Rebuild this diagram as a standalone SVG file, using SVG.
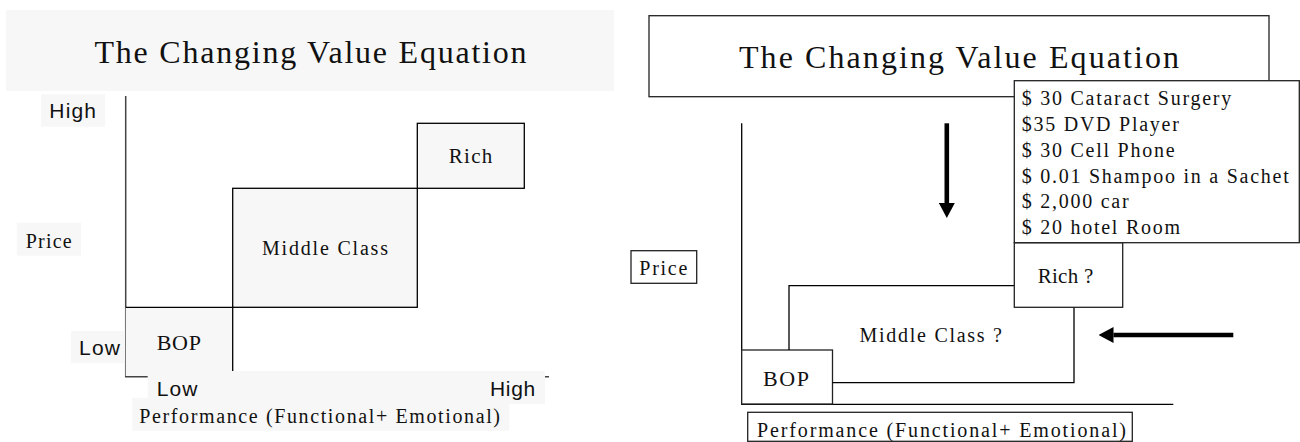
<svg xmlns="http://www.w3.org/2000/svg" width="1300" height="442" viewBox="0 0 1300 442">
<style>
.bg{fill:#f7f7f7;stroke:none}
.box{fill:#f7f7f7;stroke:#000;stroke-width:1.3}
.wbox{fill:#fff;stroke:#222;stroke-width:1.3}
.ln{fill:none;stroke:#000;stroke-width:1.3}
.ax{fill:none;stroke:#444;stroke-width:1.5}
.serif{font-family:"Liberation Serif","Times New Roman",serif;fill:#111}
.sans{font-family:"Liberation Sans",Arial,sans-serif;fill:#111}
.t32{font-size:32px}
.t20{font-size:20px}
.t21{font-size:21px}
.t22{font-size:22px}
.arr{stroke:#000;stroke-width:4.6;fill:none}
</style>
<defs>
<marker id="head" markerUnits="userSpaceOnUse" markerWidth="15" markerHeight="16" viewBox="0 0 14 15" refX="0" refY="7.5" orient="auto">
<path d="M0,0 L14,7.5 L0,15 Z" fill="#000"/>
</marker>
</defs>
<rect width="1300" height="442" fill="#fff"/>

<!-- LEFT PANEL -->
<g id="left-title">
<rect class="bg" x="6" y="10" width="608" height="81"/>
<text class="serif t32" x="94.5" y="63.3" textLength="432" lengthAdjust="spacing">The Changing Value Equation</text>
</g>
<g id="left-axes">
<path class="ax" d="M125.7,96 V376.7 H549"/>
</g>
<g id="left-rich">
<rect class="box" x="417.3" y="123.3" width="107" height="65"/>
<text class="serif t21" x="448.7" y="163.3" textLength="43.6" lengthAdjust="spacing">Rich</text>
</g>
<g id="left-middle">
<rect class="box" x="232.7" y="188.3" width="184.6" height="119"/>
<text class="serif t20" x="262" y="255" textLength="126" lengthAdjust="spacing">Middle Class</text>
</g>
<g id="left-bop">
<path d="M125.7,307.3 H232.7 V376 H125.7 Z" fill="#f7f7f7"/>
<path class="ln" d="M125.7,307.3 H232.7 V376"/>
<text class="serif t22" x="156.7" y="350.3" textLength="44.3" lengthAdjust="spacing">BOP</text>
</g>
<g id="left-high-label">
<rect class="bg" x="41" y="94.3" width="64" height="32.4"/>
<text class="sans t21" x="49.3" y="118.3" textLength="46.7" lengthAdjust="spacing">High</text>
</g>
<g id="left-price-label">
<rect class="bg" x="16.7" y="222.7" width="64.3" height="33"/>
<text class="serif t20" x="25.7" y="247.7" textLength="46" lengthAdjust="spacing">Price</text>
</g>
<g id="left-low-label">
<rect class="bg" x="71" y="331" width="54" height="32.3"/>
<text class="sans t21" x="79" y="355.3" textLength="41" lengthAdjust="spacing">Low</text>
</g>
<g id="left-xscale">
<rect class="bg" x="147.7" y="371" width="397.3" height="33"/>
<text class="sans t21" x="156.7" y="396" textLength="40.6" lengthAdjust="spacing">Low</text>
<text class="sans t21" x="490" y="395.7" textLength="45.3" lengthAdjust="spacing">High</text>
</g>
<g id="left-performance">
<rect class="bg" x="132.3" y="397.7" width="377" height="33"/>
<text class="serif t20" x="139.3" y="422.7" textLength="360.7" lengthAdjust="spacing">Performance (Functional+ Emotional)</text>
</g>

<!-- RIGHT PANEL -->
<g id="right-title">
<rect class="wbox" x="649" y="15.7" width="620" height="81"/>
<text class="serif t32" x="739" y="68.3" textLength="440" lengthAdjust="spacing">The Changing Value Equation</text>
</g>
<g id="right-axes">
<path class="ln" d="M741.7,123.3 V404.3 H1173.3"/>
</g>
<g id="right-bop">
<rect class="wbox" x="741.7" y="350" width="90.8" height="54"/>
<text class="serif t22" x="763" y="385.7" textLength="46" lengthAdjust="spacing">BOP</text>
</g>
<g id="right-middle">
<path class="ln" d="M789,350 V285.7 H1014.3 M1074,307.3 V382.7 H832.5"/>
<text class="serif t20" x="859.5" y="341.7" textLength="142.5" lengthAdjust="spacing">Middle Class ?</text>
</g>
<g id="right-rich">
<rect class="wbox" x="1014.3" y="242.7" width="108.4" height="64.6"/>
<text class="serif t21" x="1037.7" y="283.3" textLength="55.6" lengthAdjust="spacing">Rich ?</text>
</g>
<g id="right-examples">
<rect class="wbox" x="1014.3" y="80.7" width="285" height="162"/>
<g class="serif t20" style="letter-spacing:1.75px">
<text x="1021.7" y="105">$ 30 Cataract Surgery</text>
<text x="1021.7" y="131">$35 DVD Player</text>
<text x="1021.7" y="156.7">$ 30 Cell Phone</text>
<text x="1021.7" y="182.7">$ 0.01 Shampoo in a Sachet</text>
<text x="1021.7" y="208.3">$ 2,000 car</text>
<text x="1021.7" y="234">$ 20 hotel Room</text>
</g>
</g>
<g id="right-price-label">
<rect class="wbox" x="631" y="250.7" width="65.7" height="32.6"/>
<text class="serif t20" x="639.3" y="274.7" textLength="48" lengthAdjust="spacing">Price</text>
</g>
<g id="right-performance">
<rect class="wbox" x="747.7" y="412.3" width="384.6" height="29"/>
<text class="serif t20" x="757" y="436.7" textLength="369" lengthAdjust="spacing">Performance (Functional+ Emotional)</text>
</g>

<g id="connectors">
<line class="arr" x1="946.8" y1="123.3" x2="946.8" y2="203" marker-end="url(#head)"/>
<line class="arr" x1="1233.3" y1="335" x2="1113.5" y2="335" marker-end="url(#head)"/>
</g>
</svg>
